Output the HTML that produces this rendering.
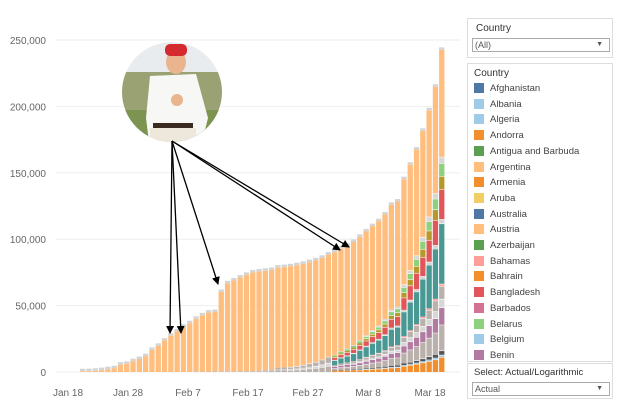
<!DOCTYPE html>
<html><head><meta charset="utf-8"><style>
body{margin:0;background:#fff;font-family:"Liberation Sans",sans-serif;}
.p{position:absolute;border:1px solid #ddd;background:#fff;}
</style></head><body>
<div style="position:relative;width:630px;height:413px;overflow:hidden">
<svg id="c" width="630" height="413" style="position:absolute;left:0;top:0"></svg>
<div class="p" style="left:467px;top:18px;width:144px;height:38px">
 <div style="font-size:10px;color:#333;margin:4px 0 0 8px">Country</div>
 <div style="position:absolute;left:4px;top:19px;width:134px;height:12px;border:1px solid #aaa;font-size:9px;color:#555;padding-left:2px;line-height:12px">(All)<span style="position:absolute;right:6px;font-size:7px">▼</span></div>
</div>
<div class="p" style="left:467px;top:63px;width:144px;height:297px" id="leg">
 <div style="font-size:10px;color:#333;margin:4px 0 0 6px">Country</div>
</div>
<div class="p" style="left:467px;top:363px;width:144px;height:34px">
 <div style="font-size:9.5px;color:#333;margin:3px 0 0 6px">Select: Actual/Logarithmic</div>
 <div style="position:absolute;left:4px;top:18px;width:134px;height:12px;border:1px solid #aaa;font-size:9px;color:#555;padding-left:2px;line-height:12px">Actual<span style="position:absolute;right:6px;font-size:7px">▼</span></div>
</div>
</div>
<script>
const NS="http://www.w3.org/2000/svg",s=document.getElementById('c');
function el(t,a,p){const e=document.createElementNS(NS,t);for(const k in a)e.setAttribute(k,a[k]);(p||s).appendChild(e);return e;}
const y0=372,k=332/250000;
[0,50000,100000,150000,200000,250000].forEach(v=>{const y=y0-v*k;
 el('line',{x1:56,x2:460,y1:y,y2:y,stroke:'#eee'});
 const t=el('text',{x:46,y:y+4,'text-anchor':'end','font-size':10,fill:'#666'});t.textContent=v.toLocaleString('en-US');});
const tot=[555,654,941,1434,2118,2927,5578,6166,8234,9927,12038,16787,19881,23892,27635,30794,34391,37120,40150,42762,44802,45221,60368,66885,69030,71224,73258,75136,75639,76197,76823,78579,78965,79568,80413,81395,82754,84120,86011,88369,90306,92840,95120,97886,101801,105847,109821,113590,118620,125875,128352,145205,156101,167454,181574,197102,214821,242570];
const cols=[['#f28e2b',0.07],['#a0cbe8',0.01],['#555',0.02],['#bab0ac',0.12],['#b07aa1',0.08],['#d7d7d7',0.04],['#bab0ac',0.06],['#ff9d9a',0.01],['#499894',0.28],['#d4d4d4',0.02],['#e15759',0.14],['#b6992d',0.06],['#8cd17d',0.06],['#d7d7d7',0.03]];
tot.forEach((t,i)=>{const x=80+i*6.3;let china=i<27?t*0.99:Math.min(t*0.99,74500+(i-27)*200);
 let other=t-china,y=y0;
 const early=i<40;
 cols.forEach(([c,f],j)=>{let ff=f;if(early){ff=(j==3||j==6)?0.4:(j==5?0.2:0);}
  const h=other*ff*k;if(h>0.2){el('rect',{x:x,y:y-h,width:5.3,height:h,fill:c});y-=h;if(h>2)el('rect',{x:x,y:y,width:5.3,height:0.6,fill:'#fff'});}});
 const h=china*k;el('rect',{x:x,y:y-h,width:5.3,height:h,fill:'#ffbe7d'});
 el('rect',{x:x,y:y-h-2.5,width:5.3,height:2.5,fill:'#d4d4d4'});});
[['Jan 18',68],['Jan 28',128],['Feb 7',188],['Feb 17',248],['Feb 27',308],['Mar 8',368],['Mar 18',430]].forEach(([l,x])=>{const t=el('text',{x:x,y:396,'text-anchor':'middle','font-size':10,fill:'#666'});t.textContent=l;});
// photo
const d=el('defs',{});const cp=el('clipPath',{id:'cl'},d);el('circle',{cx:172,cy:92,r:50},cp);
const g=el('g',{'clip-path':'url(#cl)'});
el('rect',{x:120,y:40,width:110,height:110,fill:'#e8ecef'},g);
el('rect',{x:120,y:72,width:110,height:80,fill:'#9aa273'},g);
el('rect',{x:120,y:110,width:110,height:40,fill:'#7c9450'},g);
el('path',{d:'M150 76 L196 74 L208 118 L200 150 L150 150 L146 118 Z',fill:'#f7f7f5'},g);
el('ellipse',{cx:176,cy:62,rx:10,ry:12,fill:'#e9b48e'},g);
el('rect',{x:165,y:44,width:22,height:12,rx:5,fill:'#d42a2f'},g);
el('rect',{x:153,y:123,width:40,height:5,fill:'#3a2a22'},g);
el('rect',{x:150,y:128,width:46,height:22,fill:'#eee8dc'},g);
el('circle',{cx:177,cy:100,r:6,fill:'#e9b48e'},g);
// arrows
const mk=el('marker',{id:'a',markerWidth:8,markerHeight:8,refX:7,refY:4,orient:'auto',markerUnits:'userSpaceOnUse'},d);
el('path',{d:'M0 0 L8 4 L0 8 Z',fill:'#000'},mk);
[[170,333],[181,333],[218,284],[340,250],[349,247]].forEach(([x,y])=>el('line',{x1:172,y1:141,x2:x,y2:y,stroke:'#000','stroke-width':1.3,'marker-end':'url(#a)'}));
// legend
const L=[['Afghanistan','#4e79a7'],['Albania','#a0cbe8'],['Algeria','#a0cbe8'],['Andorra','#f28e2b'],['Antigua and Barbuda','#59a14f'],['Argentina','#ffbe7d'],['Armenia','#f28e2b'],['Aruba','#f1ce63'],['Australia','#4e79a7'],['Austria','#ffbe7d'],['Azerbaijan','#59a14f'],['Bahamas','#ff9d9a'],['Bahrain','#f28e2b'],['Bangladesh','#e15759'],['Barbados','#d37295'],['Belarus','#8cd17d'],['Belgium','#a0cbe8'],['Benin','#b07aa1']];
const lg=document.getElementById('leg');
L.forEach(([n,c],i)=>{const dv=document.createElement('div');dv.style.cssText=`position:absolute;left:6px;top:${19+i*15.7}px;font-size:9.5px;color:#444;line-height:11px;white-space:nowrap`;
 dv.innerHTML=`<span style="display:inline-block;width:10px;height:10px;background:${c};vertical-align:-2px;margin-right:6px"></span>${n}`;lg.appendChild(dv);});
</script>
</body></html>
